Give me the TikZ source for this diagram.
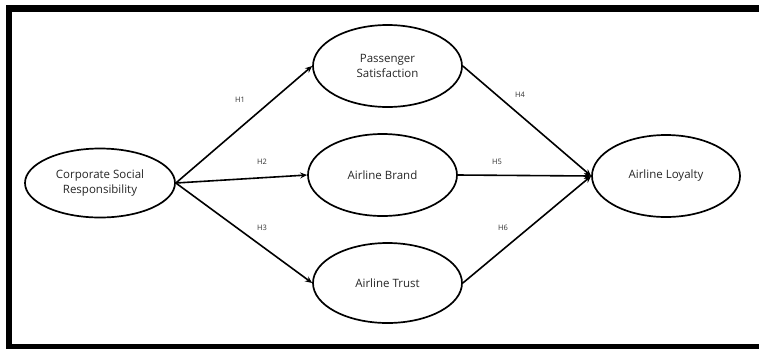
\documentclass[tikz,border=0pt]{standalone}
\usepackage{fontspec}
\setmainfont{Open Sans}
\usetikzlibrary{shapes.geometric,arrows.meta}
\begin{document}
\begin{tikzpicture}[x=1pt,y=-1pt,
  latent/.style={draw,ellipse,line width=1.7pt,inner sep=0pt,align=center,font=\fontsize{11.5}{15}\selectfont,text=black!85},
  path/.style={line width=1.6pt,-{Stealth[length=7pt,width=6pt]}},
  hlab/.style={font=\fontsize{7.5}{9}\selectfont,text=black!80}]
\useasboundingbox (0,0) rectangle (759,349);
\fill[black] (6,5) rectangle (759,12);
\fill[black] (6,5) rectangle (12,349);
\fill[black] (6,344) rectangle (759,349);
\node[latent,minimum width=150pt,minimum height=69pt] (csr) at (100,183) {Corporate Social\\Responsibility};
\node[latent,minimum width=149pt,minimum height=82pt] (ps) at (387.5,66) {Passenger\\Satisfaction};
\node[latent,minimum width=149pt,minimum height=82pt] (ab) at (382.5,175) {Airline Brand};
\node[latent,minimum width=149pt,minimum height=80pt] (at) at (387.5,283) {Airline Trust};
\node[latent,minimum width=148pt,minimum height=82pt] (al) at (666,176) {Airline Loyalty};
\draw[path] (csr.east) -- (ps.west);
\draw[path] (csr.east) -- (ab.west);
\draw[path] (csr.east) -- (at.west);
\draw[path] (ps.east) -- (al.west);
\draw[path] (ab.east) -- (al.west);
\draw[path] (at.east) -- (al.west);
\node[hlab] (h1) at (240,100) {H1};
\node[hlab] (h2) at (262,162) {H2};
\node[hlab] (h3) at (262,228) {H3};
\node[hlab] (h4) at (520,95) {H4};
\node[hlab] (h5) at (497,162) {H5};
\node[hlab] (h6) at (503,228) {H6};
\end{tikzpicture}
\end{document}
